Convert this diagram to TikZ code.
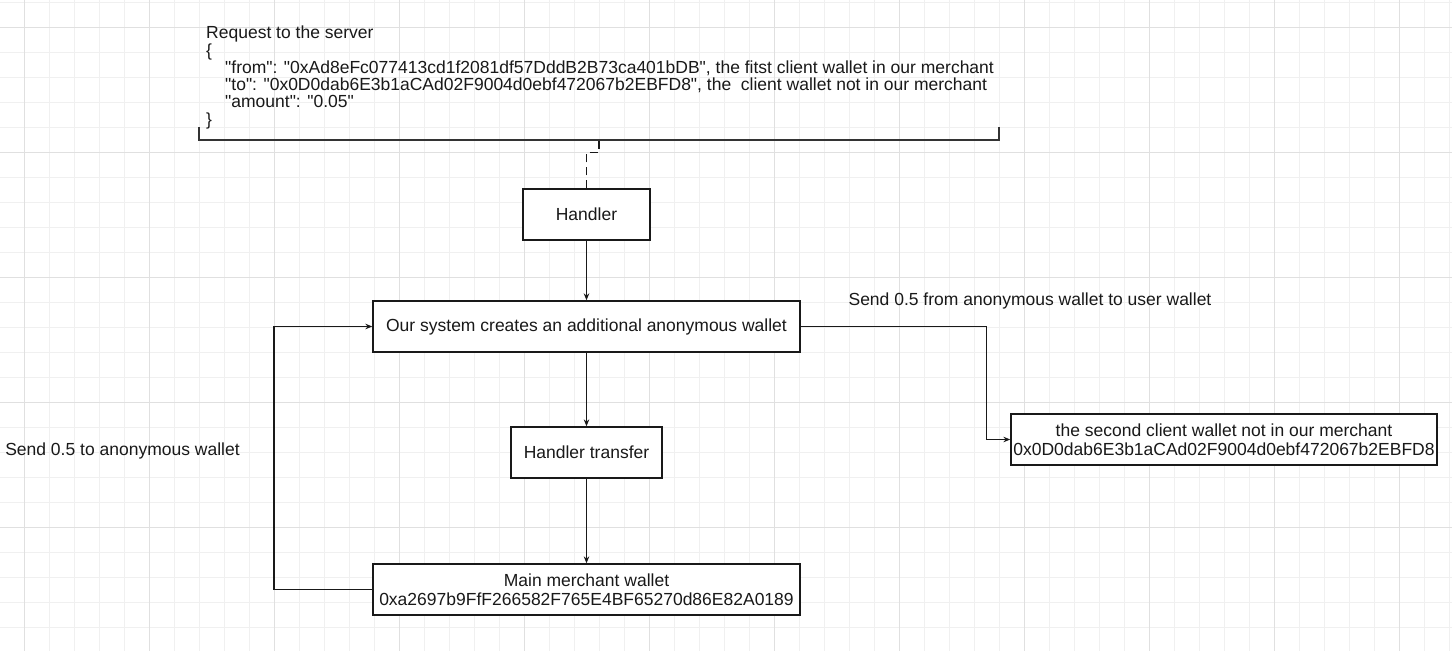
\documentclass[tikz,border=0pt]{standalone}
\usepackage{fontspec}
\setmainfont{Liberation Sans}
\usetikzlibrary{arrows.meta}
\definecolor{gridminor}{RGB}{240,240,240}
\definecolor{gridmajor}{RGB}{224,224,224}
\definecolor{ink}{RGB}{25,25,25}
\newcommand\fsA{\fontsize{17.5}{17.3}\selectfont}
\newcommand\fsB{\fontsize{17.5}{19.5}\selectfont}
\newcommand\qq{\textquotedbl}
\begin{document}
\begin{tikzpicture}[x=1pt,y=-1pt,
  box/.style={draw=ink, line width=1.3pt, fill=white, inner sep=0pt, font=\fsB, align=center, text=ink},
  lbl/.style={inner sep=0pt, font=\fsA, text=ink},
  req/.style={inner sep=0pt, font=\fsA, text=ink, anchor=base west},
  arr/.style={draw=ink, line width=1.1pt, -{Stealth[length=7pt,width=5.5pt]}},
  conn/.style={draw=ink, line width=1.1pt}]
\useasboundingbox (0,0) rectangle (1452,651);
\fill[white] (0,0) rectangle (1452,651);
% grid
\foreach \k in {0,...,57}{\draw[gridminor, line width=1pt] (24+25*\k,0) -- (24+25*\k,651);}
\foreach \k in {0,...,25}{\draw[gridminor, line width=1pt] (0,2+25*\k) -- (1452,2+25*\k);}
\foreach \k in {0,...,11}{\draw[gridmajor, line width=1pt] (24+125*\k,0) -- (24+125*\k,651);}
\foreach \k in {0,...,4}{\draw[gridmajor, line width=1pt] (0,27+125*\k) -- (1452,27+125*\k);}
% request text
\node[req] (r1) at (206,38.7) {Request to the server};
\node[req] (r2) at (206,56.0) {\{};
\node[req] (r3) at (225,73.3) {\qq from\qq: \qq 0xAd8eFc077413cd1f2081df57DddB2B73ca401bDB\qq, the fitst client wallet in our merchant};
\node[req] (r4) at (225,90.6) {\qq to\qq: \qq 0x0D0dab6E3b1aCAd02F9004d0ebf472067b2EBFD8\qq, the\ \ client wallet not in our merchant};
\node[req] (r5) at (225,107.9) {\qq amount\qq: \qq 0.05\qq};
\node[req] (r6) at (206,125.2) {\}};
% bracket
\draw[draw=black!80, line width=2pt] (199,127) -- (199,140) -- (999,140) -- (999,127);
\coordinate (brk) at (599,141);
% nodes
\node[box, minimum width=127pt, minimum height=51pt] (handler) at (586.5,214.5) {Handler};
\node[box, minimum width=427pt, minimum height=51pt] (sys) at (586.5,326.5) {Our system creates an additional anonymous wallet};
\node[box, minimum width=151pt, minimum height=51pt] (ht) at (586.5,452.5) {Handler transfer};
\node[box, minimum width=427pt, minimum height=51pt] (main) at (586.5,589.5) {Main merchant wallet\\0xa2697b9FfF266582F765E4BF65270d86E82A0189};
\node[box, minimum width=426pt, minimum height=51pt] (second) at (1224,439.5) {the second client wallet not in our merchant\\0x0D0dab6E3b1aCAd02F9004d0ebf472067b2EBFD8};
% labels
\node[lbl] (lblR) at (1030,301) {Send 0.5 from anonymous wallet to user wallet};
\node[lbl] (lblL) at (122.5,450.7) {Send 0.5 to anonymous wallet};
% connectors
\draw[conn, dash pattern=on 8pt off 5pt] (handler.north) -- ++(0,-36) -| (brk);
\draw[arr] (handler.south) -- (sys.north);
\draw[arr] (sys.south) -- (ht.north);
\draw[arr] (ht.south) -- (main.north);
\draw[arr] (sys.east) -- (986.7,326.5) |- (second.west);
\draw[arr] (main.west) -- (274,589.5) |- (sys.west);
\end{tikzpicture}
\end{document}
